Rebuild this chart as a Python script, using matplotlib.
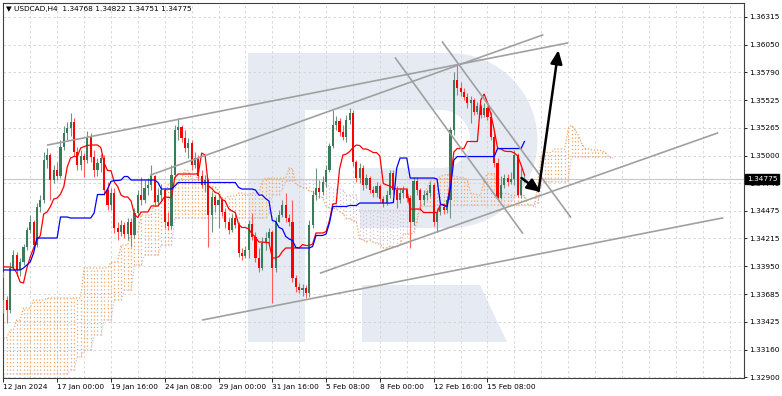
import numpy as np
import pandas as pd
import matplotlib
matplotlib.use("Agg")
import matplotlib.pyplot as plt
from matplotlib.path import Path
from matplotlib.patches import PathPatch
from matplotlib.transforms import Affine2D
from matplotlib import font_manager

W, H = 782, 396

# USDCAD H4 candles (open of a bar = close of the one before)
first_open = 1.33840
close = [
    1.33632, 1.33537, 1.33935, 1.34058, 1.33916, 1.33992, 1.34134, 1.34295, 1.34371, 1.34153,
    1.34513, 1.34579, 1.34958, 1.35005, 1.34768, 1.34863, 1.34806, 1.35081, 1.35213, 1.35261,
    1.35318, 1.35034, 1.34910, 1.34996, 1.34958, 1.35176, 1.34986, 1.34863, 1.34929, 1.34977,
    1.34674, 1.34532, 1.34645, 1.34314, 1.34276, 1.34342, 1.34257, 1.34371, 1.34247, 1.34456,
    1.34626, 1.34579, 1.34693, 1.34721, 1.34806, 1.34560, 1.34626, 1.34674, 1.34371, 1.34333,
    1.34816, 1.35242, 1.35270, 1.35166, 1.35071, 1.35119, 1.34910, 1.34977, 1.34806, 1.34721,
    1.34768, 1.34437, 1.34607, 1.34532, 1.34579, 1.34465, 1.34371, 1.34295, 1.34409, 1.34342,
    1.34077, 1.34049, 1.34106, 1.34352, 1.34229, 1.34030, 1.33935, 1.34172, 1.34219, 1.34276,
    1.33935, 1.34371, 1.34437, 1.34532, 1.34409, 1.34371, 1.33840, 1.33755, 1.33727, 1.33746,
    1.33698, 1.34342, 1.34626, 1.34693, 1.34655, 1.34749, 1.34863, 1.35090, 1.35289, 1.35327,
    1.35223, 1.35176, 1.35337, 1.35403, 1.34939, 1.34787, 1.34882, 1.34721, 1.34787, 1.34674,
    1.34645, 1.34712, 1.34588, 1.34551, 1.34626, 1.34835, 1.34674, 1.34579, 1.34645, 1.34674,
    1.34598, 1.34371, 1.34759, 1.34674, 1.34579, 1.34626, 1.34645, 1.34721, 1.34371, 1.34465,
    1.34513, 1.34484, 1.34579, 1.35242, 1.35715, 1.35640, 1.35602, 1.35554, 1.35498, 1.35526,
    1.35412, 1.35469, 1.35384, 1.35450, 1.35365, 1.35176, 1.34929, 1.34598, 1.34721, 1.34787,
    1.34749, 1.34778, 1.35005, 1.34626, 1.34768, 1.34775,
]
high = [
    1.33897, 1.33670, 1.33992, 1.34106, 1.34087, 1.34030, 1.34162, 1.34323, 1.34437, 1.34390,
    1.34551, 1.34626, 1.35034, 1.35071, 1.35024, 1.34910, 1.34939, 1.35147, 1.35280, 1.35318,
    1.35403, 1.35355, 1.35081, 1.35052, 1.35024, 1.35232, 1.35213, 1.35052, 1.34977, 1.35015,
    1.35005, 1.34749, 1.34693, 1.34693, 1.34371, 1.34390, 1.34371, 1.34409, 1.34409, 1.34503,
    1.34674, 1.34797, 1.34768, 1.34787, 1.34910, 1.34816, 1.34693, 1.34730, 1.34693, 1.34465,
    1.34910, 1.35289, 1.35355, 1.35289, 1.35242, 1.35166, 1.35147, 1.35034, 1.35005, 1.34863,
    1.34816, 1.34787, 1.34655, 1.34626, 1.34626, 1.34598, 1.34503, 1.34409, 1.34446, 1.34465,
    1.34371, 1.34124, 1.34143, 1.34390, 1.34456, 1.34276, 1.34124, 1.34229, 1.34276, 1.34314,
    1.34295, 1.34418, 1.34484, 1.34579, 1.34645, 1.34446, 1.34579, 1.33869, 1.33793, 1.33784,
    1.33774, 1.34390, 1.34674, 1.34882, 1.34768, 1.34806, 1.34910, 1.35119, 1.35431, 1.35374,
    1.35355, 1.35289, 1.35384, 1.35450, 1.35431, 1.34958, 1.34929, 1.34910, 1.34825, 1.34806,
    1.34712, 1.34749, 1.34730, 1.34617, 1.34674, 1.34863, 1.34863, 1.34712, 1.34693, 1.34712,
    1.34693, 1.34626, 1.34797, 1.34797, 1.34693, 1.34674, 1.34674, 1.34759, 1.34740, 1.34503,
    1.34541, 1.34551, 1.34617, 1.35270, 1.35791, 1.35857, 1.35696, 1.35640, 1.35592, 1.35564,
    1.35545, 1.35507, 1.35488, 1.35498, 1.35469, 1.35412, 1.35242, 1.34977, 1.34806, 1.34825,
    1.34825, 1.34844, 1.35052, 1.35024, 1.34882, 1.34822,
]
low = [
    1.33509, 1.33414, 1.33509, 1.33916, 1.33859, 1.33859, 1.33963, 1.34106, 1.34267, 1.34124,
    1.34134, 1.34465, 1.34551, 1.34882, 1.34579, 1.34740, 1.34768, 1.34787, 1.35052, 1.35147,
    1.35185, 1.34996, 1.34863, 1.34863, 1.34797, 1.34929, 1.34939, 1.34797, 1.34806, 1.34844,
    1.34626, 1.34484, 1.34484, 1.34267, 1.34200, 1.34238, 1.34219, 1.34200, 1.34134, 1.34219,
    1.34427, 1.34532, 1.34551, 1.34626, 1.34674, 1.34522, 1.34532, 1.34579, 1.34314, 1.34295,
    1.34304, 1.34787, 1.35147, 1.35128, 1.35034, 1.34977, 1.34863, 1.34882, 1.34768, 1.34693,
    1.34655, 1.34134, 1.34276, 1.34465, 1.34314, 1.34427, 1.34314, 1.34257, 1.34276, 1.34314,
    1.34039, 1.34011, 1.34030, 1.34030, 1.34200, 1.33992, 1.33897, 1.33916, 1.34106, 1.34153,
    1.33604, 1.33897, 1.34371, 1.34418, 1.34371, 1.34333, 1.33802, 1.33708, 1.33698, 1.33670,
    1.33651, 1.33660, 1.34314, 1.34579, 1.34598, 1.34626, 1.34702, 1.34844, 1.35071, 1.35242,
    1.35185, 1.35147, 1.35128, 1.35299, 1.34901, 1.34749, 1.34740, 1.34674, 1.34693, 1.34645,
    1.34607, 1.34607, 1.34560, 1.34513, 1.34532, 1.34598, 1.34636, 1.34503, 1.34551, 1.34598,
    1.34560, 1.34124, 1.34342, 1.34626, 1.34484, 1.34532, 1.34579, 1.34607, 1.34333, 1.34276,
    1.34437, 1.34446, 1.34456, 1.34409, 1.35195, 1.35573, 1.35564, 1.35526, 1.35450, 1.35308,
    1.35384, 1.35393, 1.35355, 1.35365, 1.35337, 1.35147, 1.34892, 1.34579, 1.34588, 1.34693,
    1.34712, 1.34730, 1.34721, 1.34607, 1.34598, 1.34751,
]

# indicator values that depend on bars before the visible window
tenkan_early = [1.33945, 1.33945, 1.33945, 1.33935, 1.33888, 1.33802, 1.33793, 1.33935,
                1.34039, 1.34124, 1.34200]
kijun_early = [1.33916, 1.33916, 1.33916, 1.33916, 1.33916, 1.33916, 1.33935, 1.33963,
               1.33992, 1.34077, 1.34219, 1.34219, 1.34219, 1.34219, 1.34219, 1.34219,
               1.34219, 1.34418, 1.34418, 1.34418]
span_a_early = [
    1.33272, 1.33272, 1.33348, 1.33348, 1.33443, 1.33443, 1.33556, 1.33556, 1.33556, 1.33632,
    1.33632, 1.33632, 1.33632, 1.33651, 1.33651, 1.33651, 1.33651, 1.33651, 1.33651, 1.33651,
    1.33651, 1.33651, 1.33651, 1.33651, 1.33935, 1.33935, 1.33935, 1.33935, 1.33935, 1.33935,
    1.33935, 1.33935, 1.33992, 1.33992, 1.33992, 1.34153, 1.34153, 1.34153, 1.34276, 1.34276,
    1.34276, 1.34437, 1.34437, 1.34437, 1.34437, 1.34579, 1.34579, 1.34579, 1.34579, 1.34721,
    1.34721, 1.34721,
]
span_b_early = [
    1.32931, 1.32931, 1.32931, 1.32931, 1.32931, 1.32931, 1.32931, 1.32931, 1.32931, 1.32931,
    1.32931, 1.32931, 1.32931, 1.32931, 1.32931, 1.32931, 1.32931, 1.32931, 1.32931, 1.32931,
    1.32969, 1.32969, 1.33092, 1.33092, 1.33159, 1.33159, 1.33159, 1.33301, 1.33301, 1.33301,
    1.33443, 1.33443, 1.33443, 1.33632, 1.33632, 1.33632, 1.33727, 1.33727, 1.33727, 1.33963,
    1.33963, 1.33963, 1.34058, 1.34058, 1.34058, 1.34058, 1.34058, 1.34153, 1.34153, 1.34153,
    1.34153,
]

price_ticks = [1.36315, 1.36050, 1.35790, 1.35525, 1.35265, 1.35000, 1.34740,
               1.34475, 1.34215, 1.33950, 1.33685, 1.33425, 1.33160, 1.32900]
date_ticks = [0, 16, 32, 48, 64, 80, 96, 112, 128, 144]
date_labels = ["12 Jan 2024", "17 Jan 00:00", "19 Jan 16:00", "24 Jan 08:00", "29 Jan 00:00",
               "31 Jan 16:00", "5 Feb 08:00", "8 Feb 00:00", "12 Feb 16:00", "15 Feb 08:00"]
last_price = 1.34775
header = "\u25bc USDCAD,H4  1.34768 1.34822 1.34751 1.34775"

# analyst drawings: (bar, price) -> (bar, price)
trend_lines = [
    ((13.2, 1.35100), (167.8, 1.36066)),
    ((43.8, 1.34816), (160.4, 1.36142)),
    ((116.6, 1.35924), (154.4, 1.34267)),
    ((130.6, 1.36075), (168.7, 1.34418)),
    ((94.4, 1.33888), (212.4, 1.35213)),
    ((59.3, 1.33443), (213.9, 1.34409)),
]
arrows = [
    ((154.1, 1.34787), (159.8, 1.34655)),
    ((159.2, 1.34664), (165.1, 1.35999)),
]

plt.rcParams['font.family'] = ['DejaVu Sans']
names = {f.name for f in font_manager.fontManager.ttflist}
narrow = 'DejaVu Sans'
for cand in ['Liberation Sans Narrow', 'DejaVu Sans Condensed']:
    if cand in names:
        narrow = cand
        break

close = np.array(close)
high = np.array(high)
low = np.array(low)
n = len(close)
xs = np.arange(n)
opens = np.r_[first_open, close[:-1]]

hs, ls = pd.Series(high), pd.Series(low)


def midline(p):
    return ((hs.rolling(p, min_periods=1).max() + ls.rolling(p, min_periods=1).min()) / 2).values


tenkan = midline(9)
kijun = midline(26)
tenkan[:len(tenkan_early)] = tenkan_early
kijun[:len(kijun_early)] = kijun_early
span_a = np.r_[np.full(26, np.nan), (tenkan + kijun) / 2]
span_b = np.r_[np.full(26, np.nan), midline(52)]
span_a[:len(span_a_early)] = span_a_early
span_b[:len(span_b_early)] = span_b_early
xc = np.arange(len(span_a))

fig = plt.figure(figsize=(W / 100, H / 100), dpi=100)
ax = fig.add_axes([3 / W, 18 / H, 741 / W, 375 / H])
ax.set_xlim(-0.1, 220.3)
ax.set_ylim(1.32893, 1.36445)

# watermark "R", pixel coords of the picture
px = Affine2D().scale(1 / W, -1 / H).translate(0, 1) + fig.transFigure
t = np.linspace(-np.pi / 2, np.pi / 2, 40)
bowl = [(248, 53), (450, 53)] + list(zip(450 + 87.5 * np.cos(t), 140.5 + 87.5 * np.sin(t))) + \
       [(450, 228), (360, 228), (360, 168), (441, 168)] + \
       list(zip(441 + 29 * np.cos(t[::-1]), 139 + 29 * np.sin(t[::-1]))) + \
       [(441, 110), (305, 110), (305, 342), (248, 342), (248, 53)]
leg = [(362, 285), (480, 285), (507, 342), (362, 342), (362, 285)]
verts, codes = [], []
for poly in (bowl, leg):
    verts += poly
    codes += [Path.MOVETO] + [Path.LINETO] * (len(poly) - 2) + [Path.CLOSEPOLY]
ax.add_patch(PathPatch(Path(verts, codes), transform=px, fc='#E6EBF3', ec='none', zorder=0.5))

# grid
for p in price_ticks:
    ax.axhline(p, color='#D2D2D2', lw=0.6, ls=(0, (3, 3)), zorder=1)
for b in range(8, 220, 8):
    ax.axvline(b, color='#D2D2D2', lw=0.6, ls=(0, (3, 3)), zorder=1)
ax.axhline(last_price, color='#C8C8C8', lw=0.8, zorder=1.5)

# ichimoku cloud
lo = np.minimum(span_a, span_b)
hi = np.maximum(span_a, span_b)
cloud_cols = np.where(span_a >= span_b, '#F4A460', '#D8BFD8')
ax.vlines(xc, lo, hi, colors=cloud_cols, lw=0.9, linestyles=(0, (1, 2)), zorder=2)
ax.plot(xc, span_a, color='#F4A460', lw=0.9, ls=(0, (1, 1.5)), zorder=2)
ax.plot(xc, span_b, color='#D8BFD8', lw=0.9, ls=(0, (1, 1.5)), zorder=2)

# candles
up = close >= opens
body_cols = np.where(up, '#3A7B5C', '#FF0000')
wick_cols = np.where(up, '#6E9584', '#FF5A5A')
ax.vlines(xs, low, high, colors=wick_cols, lw=0.8, zorder=4)
bottoms = np.minimum(opens, close)
heights = np.maximum(np.abs(close - opens), 0.00003)
ax.bar(xs, heights, bottom=bottoms, width=0.64, color=body_cols, lw=0, zorder=5)

ax.plot(xs, tenkan, color='#FF0000', lw=0.9, zorder=6)
ax.plot(xs, kijun, color='#0000FF', lw=0.9, zorder=6)

for (x0, y0), (x1, y1) in trend_lines:
    ax.plot([x0, x1], [y0, y1], color='#A0A0A0', lw=1.2, zorder=7)
for start, tip in arrows:
    ax.annotate('', xy=tip, xytext=start, zorder=8,
                arrowprops=dict(arrowstyle='-|>,head_length=0.8,head_width=0.35',
                                color='black', lw=1.8, shrinkA=0, shrinkB=0))

# axes
ax.yaxis.tick_right()
ax.set_yticks(price_ticks)
ax.set_yticklabels([f"{p:.5f}" for p in price_ticks])
ax.set_xticks(date_ticks)
ax.set_xticklabels(date_labels, ha='left', family=narrow)
ax.tick_params(axis='y', length=2.5, width=0.6, pad=1.2, labelsize=5.3, colors='black')
ax.tick_params(axis='x', length=3, width=0.6, pad=1.5, labelsize=5.3, colors='black')
for s in ax.spines.values():
    s.set_color('#404040')
    s.set_linewidth(0.8)

ax.text(1.004, last_price, f"{last_price:.5f}", transform=ax.get_yaxis_transform(),
        ha='left', va='center', fontsize=5.3, color='white', clip_on=False, zorder=10,
        bbox=dict(boxstyle='square,pad=0.25', fc='black', ec='black'))
ax.text(0.004, 0.983, header, transform=ax.transAxes, fontsize=5.3, ha='left', va='center')

fig.savefig('out.png', dpi=100)
